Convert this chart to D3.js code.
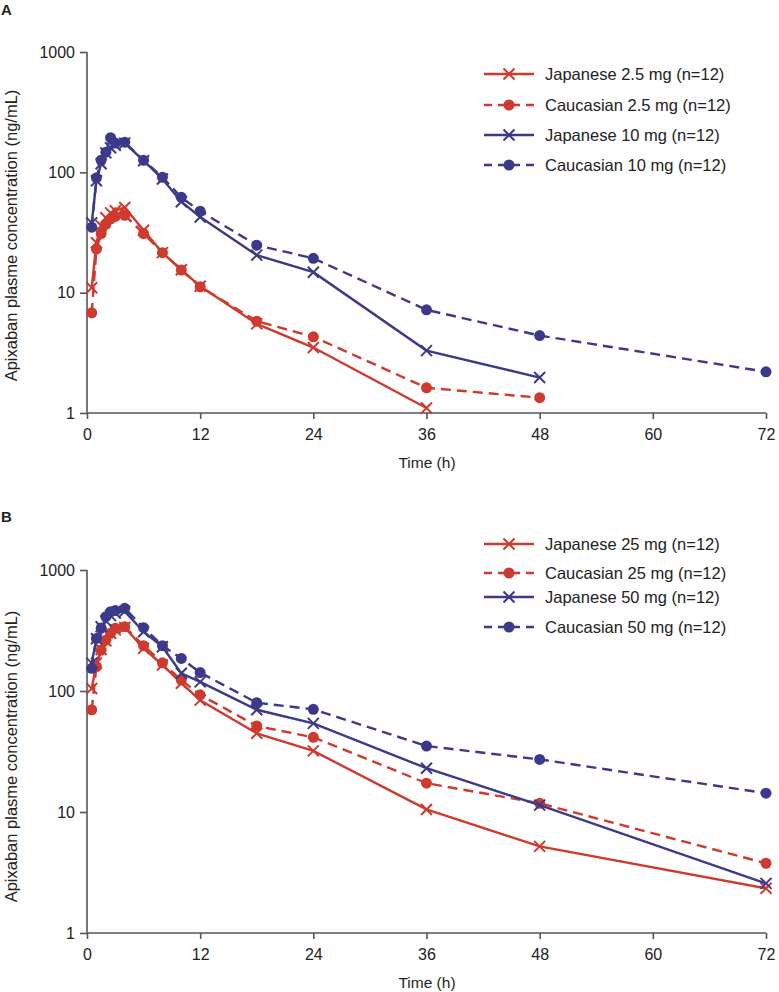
<!DOCTYPE html>
<html><head><meta charset="utf-8">
<script src="https://cdn.jsdelivr.net/npm/d3@7"></script>
<style>
body{margin:0;background:#fff;}
svg text{font-family:"Liberation Sans",Arial,sans-serif;fill:#222;}
</style></head>
<body><svg id="c" width="779" height="992"></svg>
<script>
const times = [0.5, 1, 1.5, 2, 2.5, 3, 4, 6, 8, 10, 12, 18, 24, 36, 48, 72];
const xTicks = [0, 12, 24, 36, 48, 60, 72];
const yTicks = [1, 10, 100, 1000];

// Panel A
const jap25 = [11, 26, 36, 42, 46, 48, 51, 33, 21.5, 15.5, 11.3, 5.5, 3.5, 1.1];
const cau25 = [6.8, 23, 31, 37, 41, 43, 44, 31, 21.5, 15.4, 11.2, 5.8, 4.3, 1.62, 1.34];
const jap10 = [38, 85, 118, 145, 160, 168, 175, 125, 88, 57, 42.6, 20.5, 14.8, 3.3, 1.97];
const cau10 = [35, 90, 126, 147, 194, 175, 178, 126, 91, 62, 47.5, 24.8, 19.3, 7.2, 4.4, 2.2];
// Panel B
const jap25b = [105, 170, 220, 260, 300, 320, 335, 225, 164, 116, 84, 44.7, 32, 10.5, 5.2, 2.34];
const cau25b = [70, 159, 218, 263, 300, 330, 340, 237, 171, 123, 93, 51.4, 41.4, 17.3, 11.8, 3.77];
const jap50b = [170, 270, 340, 380, 420, 440, 455, 309, 232, 140, 119, 70, 54, 23, 11.4, 2.57];
const cau50b = [154, 272, 331, 411, 452, 462, 482, 334, 237, 186, 142, 80, 70.6, 35.1, 27.2, 14.3];

const labelsA = ["Japanese 2.5 mg (n=12)", "Caucasian 2.5 mg (n=12)", "Japanese 10 mg (n=12)", "Caucasian 10 mg (n=12)"];
const labelsB = ["Japanese 25 mg (n=12)", "Caucasian 25 mg (n=12)", "Japanese 50 mg (n=12)", "Caucasian 50 mg (n=12)"];

const RED = "#cf3a2e", BLUE = "#3b3a8a", AX = "#555";
const svg = d3.select("#c");

function panel(opt){
  const g = svg.append("g");
  const x = d3.scaleLinear().domain([0,72]).range([87,766]);
  const y = d3.scaleLog().domain([1,1000]).range([opt.bottom, opt.top]);
  const xa = g.append("g").attr("transform",`translate(0,${opt.bottom})`)
    .call(d3.axisBottom(x).tickValues(xTicks).tickSize(6).tickPadding(10).tickFormat(d3.format("d")));
  const ya = g.append("g").attr("transform",`translate(87,0)`)
    .call(d3.axisLeft(y).tickValues(yTicks).tickSize(7).tickPadding(5).tickFormat(d3.format("d")));
  [xa,ya].forEach(a=>{
    a.selectAll("path,line").attr("stroke",AX).attr("stroke-width",1.6);
    a.selectAll("text").attr("font-size",16).style("fill","#222");
  });
  xa.select(".domain").attr("d",`M87,0H766`);
  ya.select(".domain").attr("d",`M0,${opt.top}V${opt.bottom}`);
  g.append("text").attr("x",427).attr("y",opt.bottom+55).attr("text-anchor","middle")
    .attr("font-size",15.5).text("Time (h)");
  g.append("text").attr("transform",`translate(17,${(opt.top+opt.bottom)/2+opt.labelShift}) rotate(-90)`)
    .attr("text-anchor","middle").attr("font-size",16.5).text("Apixaban plasme concentration (ng/mL)");
  g.append("text").attr("x",1).attr("y",opt.top-opt.letterOff).attr("font-size",15)
    .attr("font-weight","bold").text(opt.letter);

  const line = d3.line().x(d=>x(d[0])).y(d=>y(d[1]));
  opt.series.forEach(s=>{
    const pts = s.vals.map((v,i)=>[times[i],v]);
    g.append("path").datum(pts).attr("d",line).attr("fill","none")
      .attr("stroke",s.color).attr("stroke-width",2.4)
      .attr("stroke-dasharray",s.dash?"10,6":null);
    pts.forEach(p=>drawMarker(g,x(p[0]),y(p[1]),s));
  });
  opt.series.forEach((s,i)=>{
    const ly = opt.legendY[i];
    g.append("line").attr("x1",484).attr("x2",534).attr("y1",ly).attr("y2",ly)
      .attr("stroke",s.color).attr("stroke-width",2.4).attr("stroke-dasharray",s.dash?"8,6":null);
    drawMarker(g,509,ly,s);
    g.append("text").attr("x",545).attr("y",ly).attr("dy","0.35em").attr("font-size",16.5).text(s.label);
  });
}
function drawMarker(g,cx,cy,s){
  if(s.marker==="dot"){
    g.append("circle").attr("cx",cx).attr("cy",cy).attr("r",5.5).attr("fill",s.color);
  } else {
    const r=5.5;
    g.append("path").attr("d",`M${cx-r},${cy-r}L${cx+r},${cy+r}M${cx-r},${cy+r}L${cx+r},${cy-r}`)
      .attr("stroke",s.color).attr("stroke-width",2).attr("fill","none");
  }
}

panel({top:52, bottom:413, letter:"A", letterOff:37, labelShift:3, legendY:[74,105,135,165],
  series:[
    {vals:jap25, color:RED, dash:false, marker:"x", label:labelsA[0]},
    {vals:cau25, color:RED, dash:true, marker:"dot", label:labelsA[1]},
    {vals:jap10, color:BLUE, dash:false, marker:"x", label:labelsA[2]},
    {vals:cau10, color:BLUE, dash:true, marker:"dot", label:labelsA[3]}
  ]});
panel({top:570, bottom:933, letter:"B", letterOff:48, labelShift:5, legendY:[544,573,597,627],
  series:[
    {vals:jap25b, color:RED, dash:false, marker:"x", label:labelsB[0]},
    {vals:cau25b, color:RED, dash:true, marker:"dot", label:labelsB[1]},
    {vals:jap50b, color:BLUE, dash:false, marker:"x", label:labelsB[2]},
    {vals:cau50b, color:BLUE, dash:true, marker:"dot", label:labelsB[3]}
  ]});
</script></body></html>
